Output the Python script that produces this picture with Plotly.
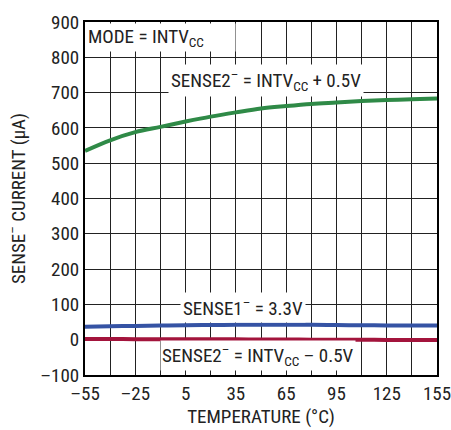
import plotly.graph_objects as go

temp = [-55, -40, -25, -10, 5, 20, 35, 50, 65, 80, 95, 110, 125, 140, 155]
sense2_plus = [535, 565, 588, 603, 618, 632, 644, 655, 662, 668, 672, 676, 679, 681, 683]
sense1 = [37, 38, 39, 40, 41, 41.5, 42, 42, 42, 42, 41.5, 41, 40.5, 40, 40]
sense2_minus = [2, 2, 1.5, 1.5, 1, 1, 1, 0.5, 0.5, 0, 0, 0, -0.5, -0.5, -1]

xticks = [-55, -25, 5, 35, 65, 95, 125, 155]
yticks = [-100, 0, 100, 200, 300, 400, 500, 600, 700, 800, 900]

FONT = "Liberation Sans Narrow, Roboto Condensed, Arial Narrow, sans-serif"
FS = 19

fig = go.Figure()
fig.add_trace(go.Scatter(x=temp, y=sense2_plus, mode="lines", line=dict(color="#2f8a47", width=4, shape="spline")))
fig.add_trace(go.Scatter(x=temp, y=sense1, mode="lines", line=dict(color="#3553a4", width=4, shape="spline")))
fig.add_trace(go.Scatter(x=temp, y=sense2_minus, mode="lines", line=dict(color="#a3143c", width=4, shape="spline")))

fig.update_layout(
    width=451, height=430,
    margin=dict(l=85, r=14, t=22, b=55, autoexpand=False),
    paper_bgcolor="white", plot_bgcolor="white",
    showlegend=False,
    font=dict(family=FONT, size=FS, color="#222"),
)
fig.update_xaxes(
    range=[-55, 155], tickvals=xticks, ticktext=[str(v).replace("-", "\u2013") for v in xticks],
    showgrid=True, gridcolor="#222", gridwidth=1.2,
    minor=dict(dtick=15, tick0=-55, showgrid=True, gridcolor="#222", gridwidth=1.2),
    showline=True, linecolor="black", linewidth=2, mirror=True, ticks="",
    zeroline=False, automargin=False, ticklabeloverflow="allow",
    title=dict(text="TEMPERATURE (°C)", standoff=4, font=dict(size=FS)),
    tickfont=dict(size=FS),
)
fig.update_yaxes(
    range=[-100, 900], tickvals=yticks, ticktext=[str(v).replace("-", "\u2013") for v in yticks],
    showgrid=True, gridcolor="#222", gridwidth=1.2,
    showline=True, linecolor="black", linewidth=2, mirror=True, ticks="",
    zeroline=False, automargin=False, ticklabeloverflow="allow",
    title=dict(text="SENSE<sup>–</sup> CURRENT (µA)", standoff=10, font=dict(size=FS)),
    tickfont=dict(size=FS),
)

ann = dict(showarrow=False, bgcolor="white", font=dict(family=FONT, size=FS, color="#222"))
fig.add_annotation(x=-55, y=900, xanchor="left", yanchor="top", text="MODE = INTV<sub>CC</sub>",
                   width=146, align="left", xshift=1, yshift=-1, borderpad=1, **ann)
fig.add_annotation(x=53, y=733, text="SENSE2<sup>–</sup> = INTV<sub>CC</sub> + 0.5V", borderpad=2, **ann)
fig.add_annotation(x=39, y=92, text="SENSE1<sup>–</sup> = 3.3V", borderpad=2, **ann)
fig.add_annotation(x=48, y=-46, text="SENSE2<sup>–</sup> = INTV<sub>CC</sub> – 0.5V", borderpad=1, **ann)

fig.write_html(
    "out.html",
    config={"displayModeBar": False},
    post_script="document.body.style.margin='0';document.body.style.overflow='hidden';",
)
